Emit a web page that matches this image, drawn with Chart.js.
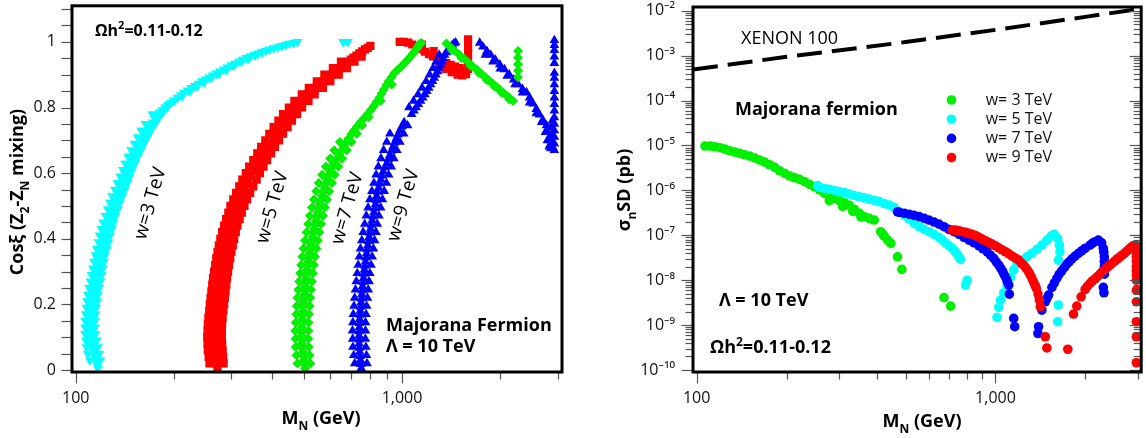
<!DOCTYPE html>
<html><head><meta charset="utf-8">
<script src="https://cdn.jsdelivr.net/npm/chart.js@4.4.0/dist/chart.umd.min.js"></script>
<style>
html,body{margin:0;padding:0;background:#fff;}
#wrap{position:relative;width:1146px;height:438px;overflow:hidden;background:#fff;}
canvas{position:absolute;top:0;}
#c1{left:0;}
#c2{left:580px;}
</style></head><body>
<div id="wrap">
<canvas id="c1" width="580" height="438"></canvas>
<canvas id="c2" width="566" height="438"></canvas>
</div>
<script>
// ---------------- DATA ----------------
// Left panel: cos(xi) vs M_N  (pairs [M_N GeV, cos xi])
const mixW3Core = [[117,0.005],[116,0.025],[114,0.045],[112.5,0.065],[111.5,0.085],[111,0.105],[110.5,0.125],[111,0.145],[111.5,0.165],[112,0.185],[112.5,0.205],[113,0.225],[114,0.245],[115,0.265],[116,0.285],[117,0.305],[118,0.325],[119,0.345],[120,0.365],[121.5,0.385],[123,0.405],[124.5,0.425],[126,0.445],[128,0.465],[130,0.485],[132,0.505],[134,0.525],[136.5,0.545],[139,0.565],[141.5,0.585],[144,0.605],[147,0.625],[150,0.645],[153.5,0.665],[157,0.685],[161,0.705],[165,0.725],[170,0.745],[175,0.765],[181,0.785],[188,0.8],[196,0.815],[205,0.83],[215,0.845],[226,0.86],[238,0.873],[250,0.886],[263,0.898],[277,0.91],[292,0.922],[308,0.934],[325,0.946],[343,0.956],[362,0.965],[382,0.973],[404,0.981],[428,0.988],[452,0.995],[478,1.0],[660,1.0],[682,1.0]];
const mixW3Mid = [[116.5,0.015],[115,0.035],[113,0.055],[112,0.075],[111,0.095],[110.5,0.115],[110.8,0.135],[111.2,0.155],[111.8,0.175],[112.2,0.195],[112.8,0.215],[113.5,0.235],[114.5,0.255],[115.5,0.275],[116.5,0.295],[117.5,0.315],[118.5,0.335],[119.5,0.355],[120.8,0.375],[122.2,0.395],[123.8,0.415],[125.2,0.435],[127,0.455],[129,0.475],[131,0.495],[133,0.515],[135.2,0.535],[137.8,0.555],[140.2,0.575],[142.8,0.595],[145.5,0.615],[148.5,0.635],[151.8,0.655],[155.2,0.675],[159,0.695],[163,0.715],[167.5,0.735],[172.5,0.755],[178,0.775],[184.5,0.792],[192,0.808],[200.5,0.822],[210,0.838],[220.5,0.852],[232,0.866],[244,0.88],[256.5,0.892],[270,0.904],[284.5,0.916],[300,0.928],[316.5,0.94],[334,0.951],[352.5,0.96],[372,0.969],[393,0.977],[416,0.984],[440,0.991],[465,0.997]];
const mixW3Left = [[110.5,0.03],[109,0.05],[108,0.07],[107.5,0.09],[107,0.11],[107,0.13],[107,0.15],[107.5,0.17],[108,0.19],[108.5,0.21],[109,0.23],[110,0.25],[111,0.27],[112,0.29],[113,0.31],[114,0.33],[115,0.35],[116,0.37],[117.5,0.39],[118.5,0.41],[120,0.43],[121.5,0.45],[123.5,0.47],[125.5,0.49],[127.5,0.51],[129.5,0.53],[132,0.55],[134.5,0.57],[137,0.59],[139.5,0.61],[142,0.63],[145,0.65],[148,0.67],[151.5,0.69],[155,0.71],[159,0.73],[164,0.75],[172,0.78]];
const mixW3Right = [[119,0.03],[118,0.05],[117,0.07],[116,0.09],[115,0.11],[114.5,0.13],[114.5,0.15],[115,0.17],[115.5,0.19],[116.5,0.21],[117,0.23],[118,0.25],[119,0.27],[120,0.29],[121,0.31],[122,0.33],[123,0.35],[124.5,0.37],[126,0.39],[127.5,0.41],[129,0.43],[130.5,0.45],[132.5,0.47],[134.5,0.49],[136.5,0.51],[139,0.53],[141.5,0.55],[144,0.57],[146.5,0.59],[149,0.61],[152,0.63],[155,0.65],[158.5,0.67],[162,0.69],[166,0.71],[170,0.73],[175,0.75],[180,0.77],[185,0.785],[191,0.8],[200,0.82],[212,0.835],[224,0.85],[236,0.865],[248,0.878],[260,0.89],[275,0.903],[290,0.915],[305,0.928],[322,0.94],[338,0.95],[356,0.96],[372,0.968]];

const mixW5Core = [[272,0.005],[270,0.03],[268,0.055],[267,0.08],[267,0.105],[267.5,0.13],[268.5,0.155],[270,0.18],[271.5,0.205],[273,0.23],[275,0.255],[277,0.28],[279.5,0.305],[282,0.33],[285,0.355],[288.5,0.38],[292.5,0.405],[297,0.43],[302,0.455],[307.5,0.48],[314,0.505],[321,0.53],[329,0.555],[338,0.58],[348,0.605],[363,0.63],[376,0.655],[390,0.68],[404,0.705],[419,0.73],[436,0.755],[455,0.78],[473,0.8],[493,0.82],[515,0.84],[545,0.86],[575,0.88],[608,0.9],[645,0.92],[685,0.94],[710,0.952],[740,0.965],[770,0.977],[800,0.988]];
const mixW5Mid = [[271,0.0175],[269,0.0425],[267.5,0.0675],[267,0.0925],[267.2,0.1175],[268,0.1425],[269.2,0.1675],[270.8,0.1925],[272.2,0.2175],[274,0.2425],[276,0.2675],[278.2,0.2925],[280.8,0.3175],[283.5,0.3425],[286.8,0.3675],[290.5,0.3925],[294.8,0.4175],[299.5,0.4425],[304.8,0.4675],[310.8,0.4925],[317.5,0.5175],[325,0.5425],[333.5,0.5675],[343,0.5925],[355.5,0.6175],[369.5,0.6425],[383,0.6675],[397,0.6925],[411.5,0.7175],[427.5,0.7425],[445.5,0.7675],[464,0.79],[483,0.81],[504,0.83],[530,0.85],[560,0.87],[591,0.89],[626,0.91],[665,0.93],[697,0.946],[725,0.958],[755,0.971],[785,0.982]];
const mixW5Left = [[257,0.02],[255.5,0.04],[254,0.06],[253.5,0.08],[253,0.10],[253.5,0.12],[254,0.14],[255,0.16],[256.5,0.18],[257.5,0.2],[259,0.22],[260.5,0.24],[262,0.26],[263.5,0.28],[265.5,0.30],[267.5,0.32],[269.5,0.34],[272,0.36],[274.5,0.38],[277.5,0.4],[281,0.42],[285,0.44],[289,0.46],[293.5,0.48],[298,0.50],[304,0.52],[310,0.54],[317,0.56],[324,0.58],[332,0.6],[340,0.62],[350,0.64],[360,0.66],[370,0.68],[381,0.70],[392,0.72],[404,0.74],[418,0.76],[432,0.78],[450,0.8],[468,0.82],[493,0.84],[518,0.86],[548,0.88],[578,0.90],[614,0.92],[650,0.94]];
const mixW5Right = [[284,0.02],[283,0.04],[282,0.06],[281,0.08],[280.5,0.1],[280.5,0.12],[281,0.14],[282,0.16],[283.5,0.18],[285,0.20],[286.5,0.22],[288,0.24],[289.5,0.26],[291,0.28],[293,0.3],[295,0.32],[297.5,0.34],[300,0.36],[303,0.38],[306,0.40],[309.5,0.42],[313,0.44],[318,0.46],[323,0.48],[329,0.5],[335,0.52],[342.5,0.54],[350,0.56],[358.5,0.58],[367,0.60],[376.5,0.62],[386,0.64],[397,0.66],[408,0.68],[420,0.7],[432,0.72],[446,0.74],[460,0.76],[477,0.78],[494,0.80],[517,0.82],[540,0.84],[572,0.86],[603,0.88],[640,0.9],[678,0.92],[715,0.94],[752,0.955]];
const mixW5Top = [[984,1.0],[1012,1.0],[1045,0.998],[1075,0.992],[1107,0.986],[1140,0.978],[1150,0.992],[1175,0.97],[1210,0.963],[1245,0.956],[1250,0.972],[1285,0.948],[1325,0.94],[1367,0.935],[1410,0.93],[1455,0.925],[1500,0.92],[1545,0.918],[1300,0.928],[1340,0.93],[1360,0.918],[1420,0.908],[1440,0.915],[1480,0.9],[1520,0.91],[1530,0.898],[1570,0.902],[1575,0.912],[1594,0.918],[1594,0.94],[1594,0.962],[1594,0.985],[1594,1.008]];

const mixW7Core = [[505,0.005],[500,0.03],[497,0.055],[494,0.08],[493,0.105],[493,0.13],[495,0.155],[497,0.18],[499,0.205],[502,0.23],[505,0.255],[508,0.28],[512,0.305],[516,0.33],[520,0.355],[526,0.38],[532,0.405],[538,0.43],[545,0.455],[552,0.48],[560,0.505],[569,0.53],[579,0.555],[590,0.58],[603,0.605],[618,0.63],[642,0.655],[663,0.68],[685,0.705],[712,0.73],[745,0.755],[785,0.78],[820,0.805],[852,0.83],[880,0.855],[910,0.88],[948,0.905],[995,0.925],[1040,0.945],[1080,0.965],[1112,0.98],[1125,0.99],[1147,0.997]];
const mixW7Mid = [[502.5,0.0175],[498.5,0.0425],[495.5,0.0675],[493.5,0.0925],[493,0.1175],[494,0.1425],[496,0.1675],[498,0.1925],[500.5,0.2175],[503.5,0.2425],[506.5,0.2675],[510,0.2925],[514,0.3175],[518,0.3425],[523,0.3675],[529,0.3925],[535,0.4175],[541.5,0.4425],[548.5,0.4675],[556,0.4925],[564.5,0.5175],[574,0.5425],[584.5,0.5675],[596.5,0.5925],[610.5,0.6175],[630,0.6425],[652.5,0.6675],[674,0.6925],[698.5,0.7175],[728.5,0.7425],[765,0.7675],[802.5,0.7925],[836,0.8175],[866,0.8425],[895,0.8675],[929,0.8925],[971,0.915],[1017,0.935],[1060,0.955],[1096,0.972],[1118,0.985],[1136,0.994]];
const mixW7Left = [[478,0.02],[475,0.045],[472,0.07],[471.5,0.095],[471,0.12],[472.5,0.145],[474,0.17],[476,0.195],[478,0.22],[481,0.245],[484,0.27],[487.5,0.295],[491,0.32],[495,0.345],[499,0.37],[504.5,0.395],[510,0.42],[516,0.445],[522,0.47],[529.5,0.495],[537,0.52],[546,0.545],[556,0.57],[569,0.595],[584,0.62],[602,0.645],[620,0.67],[645,0.695]];
const mixW7Right = [[524,0.02],[521,0.045],[518,0.07],[516,0.095],[516.5,0.12],[517,0.145],[519,0.17],[521,0.195],[523.5,0.22],[526,0.245],[529.5,0.27],[533,0.295],[537,0.32],[541,0.345],[546.5,0.37],[552,0.395],[558.5,0.42],[565,0.445],[572.5,0.47],[580,0.495],[589,0.52],[598,0.545],[610,0.57],[622,0.595],[638,0.62],[655,0.645],[677,0.67],[700,0.695],[727,0.72],[755,0.745],[790,0.77],[860,0.82],[930,0.87]];
const mixW7Tail = [[1368,0.995],[1410,0.984],[1450,0.973],[1500,0.961],[1550,0.949],[1600,0.937],[1650,0.925],[1700,0.914],[1750,0.903],[1800,0.892],[1850,0.882],[1900,0.872],[1950,0.863],[2000,0.853],[2050,0.844],[2120,0.832],[2189,0.82],[1420,0.975],[1520,0.951],[1620,0.927],[1720,0.905],[1820,0.884],[1920,0.864],[2020,0.845],[2130,0.825],[2268,0.972],[2268,0.952],[2268,0.932],[2268,0.912],[2268,0.892]];

const mixW9Core = [[750,0.005],[746,0.03],[742,0.055],[739,0.08],[739,0.105],[740,0.13],[742,0.155],[745,0.18],[749,0.205],[753,0.23],[757,0.255],[762,0.28],[767,0.305],[773,0.33],[779,0.355],[786,0.38],[793,0.405],[801,0.43],[810,0.455],[820,0.48],[830,0.505],[836,0.53],[848,0.555],[862,0.58],[876,0.605],[899,0.63],[918,0.655],[938,0.68],[960,0.705],[985,0.73],[1015,0.755],[1070,0.78],[1105,0.8],[1140,0.82],[1175,0.84],[1208,0.86],[1240,0.88],[1270,0.9],[1298,0.92],[1325,0.94],[1350,0.96],[1385,0.975],[1425,0.99],[1460,0.998]];
const mixW9Mid = [[748,0.0175],[744,0.0425],[740.5,0.0675],[739,0.0925],[739.5,0.1175],[741,0.1425],[743.5,0.1675],[747,0.1925],[751,0.2175],[755,0.2425],[759.5,0.2675],[764.5,0.2925],[770,0.3175],[776,0.3425],[782.5,0.3675],[789.5,0.3925],[797,0.4175],[805.5,0.4425],[815,0.4675],[825,0.4925],[833,0.5175],[842,0.5425],[855,0.5675],[869,0.5925],[887,0.6175],[908,0.6425],[928,0.6675],[949,0.6925],[972,0.7175],[1000,0.7425],[1088,0.79],[1122,0.81],[1157,0.83],[1191,0.85],[1224,0.87],[1255,0.89],[1284,0.91],[1311,0.93],[1337,0.95],[1367,0.968],[1405,0.983],[1442,0.995]];
const mixW9Left = [[716,0.02],[711,0.045],[707,0.07],[706,0.095],[705,0.12],[707,0.145],[709,0.17],[712.5,0.195],[716,0.22],[720,0.245],[724,0.27],[729,0.295],[734,0.32],[740,0.345],[746,0.37],[753,0.395],[760,0.42],[768.5,0.445],[777,0.47],[787,0.495],[797,0.52],[808.5,0.545],[820,0.57],[833,0.595],[846,0.62],[862,0.645],[878,0.67],[898,0.695],[918,0.72],[1050,0.8],[1085,0.82],[1120,0.84],[1152,0.86],[1185,0.88],[1215,0.9],[1245,0.92],[1272,0.94],[1300,0.96]];
const mixW9Right = [[781,0.02],[778,0.045],[775,0.07],[772,0.095],[772.5,0.12],[773,0.145],[776,0.17],[779,0.195],[783.5,0.22],[788,0.245],[792.5,0.27],[797,0.295],[803.5,0.32],[810,0.345],[817,0.37],[824,0.395],[832,0.42],[840,0.445],[850,0.47],[860,0.495],[871,0.52],[882,0.545],[896,0.57],[910,0.595],[927,0.62],[944,0.645],[964,0.67],[985,0.695],[1012,0.72],[1040,0.745]];
const mixW9Tail = [[1730,0.997],[1770,0.985],[1820,0.972],[1870,0.96],[1930,0.946],[1993,0.931],[2060,0.916],[2130,0.9],[2200,0.885],[2270,0.87],[2340,0.856],[2406,0.846],[2460,0.83],[2520,0.812],[2580,0.795],[2640,0.778],[2700,0.762],[2771,0.745],[2800,0.725],[2820,0.705],[2837,0.685],[2860,0.675],[2890,0.68],[1800,0.96],[1900,0.94],[2000,0.918],[2100,0.896],[2220,0.87],[2340,0.845],[2460,0.815],[2580,0.782],[2680,0.755],[2750,0.725],[2790,0.7],[2830,0.68],[2870,0.7],[2880,0.72],[2860,0.74],[2890,0.76],[2930,0.67],[2930,0.69],[2930,0.71],[2930,0.73],[2930,0.75],[2930,0.77],[2930,0.79],[2930,0.81],[2930,0.83],[2930,0.85],[2930,0.87],[2930,0.89],[2930,0.905],[2930,0.935],[2930,0.955],[2930,0.975],[2930,0.99],[2930,1.005]];

// Right panel: sigma_n^SD (pb) vs M_N
const sdW3 = [[106.6,9.7e-6],[110.7,9.7e-6],[115.1,9.35e-6],[119.6,8.9e-6],[124.3,8.3e-6],[129.1,7.6e-6],[134.2,7.1e-6],[139.4,6.66e-6],[144.9,6.2e-6],[150.5,5.8e-6],[156.4,5.24e-6],[162.6,4.73e-6],[168.9,4.27e-6],[175.5,3.72e-6],[182.4,3.25e-6],[189.5,2.73e-6],[197,2.4e-6],[204.6,2.09e-6],[212.6,1.91e-6],[221,1.76e-6],[229.6,1.56e-6],[238.6,1.36e-6],[248,1.2e-6],[257.6,1.02e-6],[267.7,8.6e-7],[278.2,7.5e-7],[289,6.6e-7],[300.3,5.9e-7],[312.1,5.3e-7],[324.3,4.63e-7],[337,3.78e-7],[350.2,3.08e-7],[363.9,2.59e-7],[378.2,2.38e-7],[392.9,2.18e-7],[412.9,1.2e-7],[420,1.05e-7],[424.4,9.6e-8],[435.5,7.8e-8],[446.7,6.6e-8],[470,3.3e-8],[486,1.74e-8],[672.5,4.1e-9],[708,2.65e-9],[278,5.9e-7],[308,4.4e-7],[333,3.4e-7],[355,2.55e-7]];
const sdW5 = [[254,1.28e-6],[257.6,1.17e-6],[267.7,1.1e-6],[278.2,1.05e-6],[289,1.0e-6],[300.3,9.3e-7],[312,8.9e-7],[324.3,8.3e-7],[337,7.7e-7],[350.2,7.2e-7],[364,6.8e-7],[378.2,6.4e-7],[393,6.0e-7],[408.3,5.6e-7],[424,5.1e-7],[441,4.7e-7],[458,4.17e-7],[476,3.3e-7],[495,2.8e-7],[514,2.3e-7],[534,1.85e-7],[555,1.55e-7],[577,1.35e-7],[599,1.2e-7],[623,1.05e-7],[647,9.0e-8],[664,7.8e-8],[681,6.8e-8],[698,5.9e-8],[716.8,5.1e-8],[731,4.4e-8],[745,3.8e-8],[755,3.3e-8],[764,2.9e-8],[794,7.8e-9],[804,1.0e-8],[1012,1.48e-9],[1026,2.48e-9],[1039,3.6e-9],[1066,5.25e-9],[1093,7.8e-9],[1122,1.15e-8],[1151,1.68e-8],[1180,2.28e-8],[1227,2.8e-8],[1274,3.3e-8],[1324,3.95e-8],[1376,4.85e-8],[1430,6.05e-8],[1486,7.8e-8],[1536,9.6e-8],[1574,1.05e-7],[1614,8.5e-8],[1636,6.05e-8],[1644,4.3e-8],[1623,2.8e-8],[1623,2.8e-9],[1614,1.19e-9]];
const sdW7 = [[470,3.33e-7],[476,3.25e-7],[495,3.1e-7],[514,2.95e-7],[534,2.77e-7],[555,2.6e-7],[577,2.38e-7],[599,2.18e-7],[623,1.97e-7],[647,1.77e-7],[672,1.55e-7],[698,1.35e-7],[726,1.2e-7],[755,1.05e-7],[784,9.0e-8],[815,7.8e-8],[847,6.8e-8],[880,5.8e-8],[908,5.0e-8],[938,4.3e-8],[962,3.6e-8],[987,3.05e-8],[1006,2.57e-8],[1026,2.17e-8],[1042,1.83e-8],[1058,1.54e-8],[1071,1.3e-8],[1085,1.1e-8],[1096,9.2e-9],[1108,7.8e-9],[1113,4.9e-9],[1151,1.41e-9],[1160,9.2e-10],[1387,6.5e-10],[1394,9.2e-10],[1430,2.16e-9],[1468,3.3e-9],[1486,3.9e-9],[1506,4.66e-9],[1545,6.9e-9],[1574,8.7e-9],[1605,1.1e-8],[1633,1.35e-8],[1667,1.62e-8],[1702,1.92e-8],[1733,2.28e-8],[1764,2.57e-8],[1800,2.95e-8],[1847,3.44e-8],[1895,3.95e-8],[1944,4.5e-8],[1995,5.1e-8],[2073,6.05e-8],[2110,6.6e-8],[2154,7.2e-8],[2210,7.8e-8],[2267,6.8e-8],[2296,5.1e-8],[2305,4.2e-8],[2314,3.3e-8],[2314,2.6e-8],[2314,2.0e-8],[2314,1.7e-8],[2314,1.36e-8],[2296,6.9e-9],[2307,5.25e-9]];
const sdW9 = [[717,1.3e-7],[736,1.3e-7],[755,1.26e-7],[774,1.2e-7],[794,1.16e-7],[815,1.1e-7],[836,1.05e-7],[858,9.8e-8],[880,9.0e-8],[903,8.2e-8],[926,7.5e-8],[950,6.9e-8],[974,6.35e-8],[1000,5.8e-8],[1026,5.25e-8],[1053,4.75e-8],[1080,4.3e-8],[1108,3.87e-8],[1137,3.44e-8],[1166,3.1e-8],[1196,2.8e-8],[1219,2.44e-8],[1243,2.17e-8],[1263,1.89e-8],[1285,1.62e-8],[1301,1.39e-8],[1318,1.19e-8],[1331,1.02e-8],[1345,8.75e-9],[1359,7.6e-9],[1370,6.6e-9],[1388,4.9e-9],[1402,3.6e-9],[1413,2.56e-9],[1468,5.5e-10],[1486,3.1e-10],[1746,2.9e-10],[1824,1.76e-9],[1871,2.65e-9],[1935,4.27e-9],[1995,6.2e-9],[2030,7.3e-9],[2073,8.5e-9],[2110,9.6e-9],[2154,1.07e-8],[2195,1.2e-8],[2239,1.37e-8],[2280,1.55e-8],[2326,1.74e-8],[2370,1.95e-8],[2416,2.17e-8],[2465,2.42e-8],[2512,2.7e-8],[2560,3.0e-8],[2610,3.3e-8],[2660,3.65e-8],[2712,4.07e-8],[2765,4.55e-8],[2818,5.1e-8],[2855,5.5e-8],[2891,5.8e-8],[2943,6.05e-8],[2962,5.5e-8],[2962,4.7e-8],[2962,4.0e-8],[2962,3.3e-8],[2962,2.6e-8],[2962,2.0e-8],[2962,1.6e-8],[2962,1.3e-8],[2962,1.0e-8],[2962,6.0e-9],[2962,3.3e-9],[2962,1.19e-9],[2962,5.5e-10],[2962,1.45e-10]];
const xenonLimit = [[97.2,4.9e-4],[200,9.4e-4],[500,2.0e-3],[1000,3.75e-3],[2000,7.3e-3],[3076,1.11e-2]];

// tick labels
const massTicks = [100, 1000];
const cosTicks = [0, 0.2, 0.4, 0.6, 0.8, 1];
const sigmaExps = [-10, -9, -8, -7, -6, -5, -4, -3, -2];

// ---------------- HELPERS ----------------
const FONT = "'Open Sans', 'Noto Sans', 'DejaVu Sans', sans-serif";
const CYAN = '#00ffff', RED = '#ff0000', GREEN = '#00f000', BLUE = '#0000ff';
const pts = arr => arr.map(([x, y]) => ({x, y}));
const SUP = {'0':'⁰','1':'¹','2':'²','3':'³','4':'⁴','5':'⁵','6':'⁶','7':'⁷','8':'⁸','9':'⁹','-':'⁻'};
const sup = s => String(s).split('').map(c => SUP[c] || c).join('');
const noPad = s => { s.paddingLeft = 0; s.paddingRight = 0; s.paddingTop = 0; s.paddingBottom = 0; };

function drawRich(ctx, it) {
  const size = it.size;
  const style = it.italic ? 'italic ' : '';
  const weight = it.bold ? 'bold ' : '';
  const fontFor = p => style + weight + ((p.sub || p.sup) ? Math.round(size * 0.68) : size) + 'px ' + FONT;
  let w = 0;
  const widths = it.parts.map(p => { ctx.font = fontFor(p); const m = ctx.measureText(p.t).width; w += m; return m; });
  ctx.save();
  ctx.translate(it.x, it.y);
  if (it.rot) ctx.rotate(it.rot * Math.PI / 180);
  let x = it.align === 'center' ? -w / 2 : 0;
  const base = size * 0.36;
  ctx.fillStyle = it.color || '#000';
  ctx.textBaseline = 'alphabetic';
  ctx.textAlign = 'left';
  it.parts.forEach((p, i) => {
    ctx.font = fontFor(p);
    const dy = p.sub ? size * 0.28 : (p.sup ? -size * 0.4 : 0);
    ctx.fillText(p.t, x, base + dy);
    x += widths[i];
  });
  ctx.restore();
}

const framePlugin = {
  id: 'frame',
  afterDraw(chart, args, opts) {
    const {ctx, chartArea: a, scales} = chart;
    ctx.save();
    ctx.strokeStyle = '#555';
    ctx.lineWidth = 1.2;
    (opts.xTicks || []).forEach(t => {
      const x = Math.round(scales.x.getPixelForValue(t.v)) + 0.5;
      ctx.beginPath(); ctx.moveTo(x, a.bottom); ctx.lineTo(x, a.bottom + 1.5 + t.len); ctx.stroke();
    });
    (opts.yTicks || []).forEach(t => {
      const y = Math.round(scales.y.getPixelForValue(t.v)) + 0.5;
      ctx.beginPath(); ctx.moveTo(a.left, y); ctx.lineTo(a.left - 1.5 - t.len, y); ctx.stroke();
      if (opts.mirrorY) { ctx.beginPath(); ctx.moveTo(a.right, y); ctx.lineTo(a.right - 1.5 - t.len, y); ctx.stroke(); }
    });
    ctx.strokeStyle = '#000';
    ctx.lineWidth = 3;
    ctx.strokeRect(a.left, a.top, a.right - a.left, a.bottom - a.top);
    ctx.restore();
  }
};

const notesPlugin = {
  id: 'notes',
  afterDraw(chart, args, opts) {
    const ctx = chart.ctx;
    (opts.items || []).forEach(it => drawRich(ctx, it));
    if (opts.legend) {
      const L = opts.legend;
      let i = 0;
      chart.data.datasets.forEach(ds => {
        if (ds.inLegend === false) return;
        const y = L.y + i * L.dy;
        ctx.save();
        ctx.fillStyle = ds.backgroundColor;
        ctx.beginPath(); ctx.arc(L.x, y, L.r, 0, Math.PI * 2); ctx.fill();
        ctx.fillStyle = '#111';
        ctx.font = L.size + 'px ' + FONT;
        ctx.textBaseline = 'middle';
        ctx.textAlign = 'left';
        ctx.fillText(ds.label, L.tx, y);
        ctx.restore();
        i++;
      });
    }
  }
};

function logTickMarks(minorTop) {
  const out = [];
  [100, 1000].forEach(d => {
    out.push({v: d, len: 10});
    for (let k = 2; k <= 9; k++) { const v = k * d; if (v <= minorTop) out.push({v, len: 6}); }
  });
  return out;
}

// ---------------- LEFT CHART ----------------
const leftYTicks = [];
for (let i = 0; i <= 22; i++) leftYTicks.push({v: i * 0.05, len: 9});

new Chart(document.getElementById('c1'), {
  type: 'scatter',
  data: {
    datasets: [
      {label: 'w=3 TeV', data: pts([...mixW3Core, ...mixW3Mid, ...mixW3Left, ...mixW3Right]), pointStyle: 'triangle', rotation: 180, pointRadius: 5.8, backgroundColor: CYAN, borderColor: CYAN, borderWidth: 0, order: 4},
      {label: 'w=5 TeV', data: pts([...mixW5Core, ...mixW5Mid, ...mixW5Left, ...mixW5Right, ...mixW5Top]), pointStyle: 'rect', pointRadius: 5.8, backgroundColor: RED, borderColor: RED, borderWidth: 0, order: 3},
      {label: 'w=7 TeV', data: pts([...mixW7Core, ...mixW7Mid, ...mixW7Left, ...mixW7Right, ...mixW7Tail]), pointStyle: 'rectRot', pointRadius: 5, backgroundColor: GREEN, borderColor: GREEN, borderWidth: 0, order: 1},
      {label: 'w=9 TeV', data: pts([...mixW9Core, ...mixW9Mid, ...mixW9Left, ...mixW9Right, ...mixW9Tail]), pointStyle: 'triangle', pointRadius: 5.6, backgroundColor: BLUE, borderColor: BLUE, borderWidth: 0, order: 2}
    ]
  },
  options: {
    responsive: false, animation: false, events: [],
    layout: {padding: {left: 0, right: 18, top: 2, bottom: 0}},
    plugins: {
      legend: {display: false}, tooltip: {enabled: false},
      frame: {xTicks: logTickMarks(3000), yTicks: leftYTicks},
      notes: {items: [
        {parts: [{t: 'Cosξ (Z'}, {t: '2', sub: true}, {t: '-Z'}, {t: 'N', sub: true}, {t: ' mixing)'}], x: 17, y: 192, rot: -90, size: 18, bold: true, align: 'center'},
        {parts: [{t: 'M'}, {t: 'N', sub: true}, {t: ' (GeV)'}], x: 321, y: 418, size: 18, bold: true, align: 'center'},
        {parts: [{t: 'Ωh'}, {t: '2', sup: true}, {t: '=0.11-0.12'}], x: 95, y: 30, size: 16, bold: true},
        {parts: [{t: 'w=3 TeV'}], x: 149, y: 203, rot: -74, size: 19, align: 'center'},
        {parts: [{t: 'w=5 TeV'}], x: 271, y: 207, rot: -74, size: 19, align: 'center'},
        {parts: [{t: 'w=7 TeV'}], x: 346, y: 208, rot: -74, size: 19, align: 'center'},
        {parts: [{t: 'w=9 TeV'}], x: 402, y: 205, rot: -74, size: 19, align: 'center'},
        {parts: [{t: 'Majorana Fermion'}], x: 386, y: 325, size: 18, bold: true},
        {parts: [{t: 'Λ = 10 TeV'}], x: 386, y: 346, size: 18, bold: true}
      ]}
    },
    scales: {
      x: {
        type: 'logarithmic', position: 'bottom', min: 97.42, max: 3092,
        grid: {display: false, drawTicks: false}, border: {display: false},
        afterBuildTicks: s => { s.ticks = massTicks.map(v => ({value: v})); },
        afterFit: s => { s.height = 66; noPad(s); },
        ticks: {autoSkip: false, maxRotation: 0, padding: 17, color: '#111', font: {family: FONT, size: 16},
          callback: v => v === 1000 ? '1,000' : String(v)}
      },
      y: {
        type: 'linear', position: 'left', min: -0.006, max: 1.11,
        grid: {display: false, drawTicks: false}, border: {display: false},
        afterBuildTicks: s => { s.ticks = cosTicks.map(v => ({value: v})); },
        afterFit: s => { s.width = 72; noPad(s); },
        ticks: {autoSkip: false, padding: 16, color: '#111', font: {family: FONT, size: 16},
          callback: v => (v === 0 || v === 1) ? String(v) : v.toFixed(1)}
      }
    }
  },
  plugins: [framePlugin, notesPlugin]
});

// ---------------- RIGHT CHART ----------------
const rightYTicks = [];
sigmaExps.forEach(e => {
  rightYTicks.push({v: Math.pow(10, e), len: 10});
  if (e < -2) for (let k = 2; k <= 9; k++) rightYTicks.push({v: k * Math.pow(10, e), len: 6});
});

new Chart(document.getElementById('c2'), {
  type: 'scatter',
  data: {
    datasets: [
      {label: 'w= 3 TeV', data: pts(sdW3), pointStyle: 'circle', pointRadius: 4.8, backgroundColor: GREEN, borderColor: GREEN, borderWidth: 0, order: 4},
      {label: 'w= 5 TeV', data: pts(sdW5), pointStyle: 'circle', pointRadius: 4.8, backgroundColor: CYAN, borderColor: CYAN, borderWidth: 0, order: 3},
      {label: 'w= 7 TeV', data: pts(sdW7), pointStyle: 'circle', pointRadius: 4.8, backgroundColor: BLUE, borderColor: BLUE, borderWidth: 0, order: 2},
      {label: 'w= 9 TeV', data: pts(sdW9), pointStyle: 'circle', pointRadius: 4.8, backgroundColor: RED, borderColor: RED, borderWidth: 0, order: 1},
      {label: 'XENON 100', inLegend: false, data: pts(xenonLimit), showLine: true, pointRadius: 0, borderColor: '#000', backgroundColor: '#000', borderWidth: 4, borderDash: [25, 10], order: 0}
    ]
  },
  options: {
    responsive: false, animation: false, events: [],
    layout: {padding: {left: 0, right: 3, top: 7, bottom: 0}},
    plugins: {
      legend: {display: false}, tooltip: {enabled: false},
      frame: {xTicks: logTickMarks(3000), yTicks: rightYTicks, mirrorY: true},
      notes: {
        items: [
          {parts: [{t: 'σ'}, {t: 'n', sub: true}, {t: 'SD (pb)'}], x: 44, y: 190, rot: -90, size: 18, bold: true, align: 'center'},
          {parts: [{t: 'M'}, {t: 'N', sub: true}, {t: ' (GeV)'}], x: 342, y: 421, size: 18, bold: true, align: 'center'},
          {parts: [{t: 'XENON 100'}], x: 161, y: 38, size: 18},
          {parts: [{t: 'Majorana fermion'}], x: 155, y: 109, size: 18, bold: true},
          {parts: [{t: 'Λ = 10 TeV'}], x: 139, y: 300, size: 18, bold: true},
          {parts: [{t: 'Ωh'}, {t: '2', sup: true}, {t: '=0.11-0.12'}], x: 130, y: 347, size: 18, bold: true}
        ],
        legend: {x: 371.5, y: 100, dy: 19.2, r: 4.8, tx: 405.7, size: 16}
      }
    },
    scales: {
      x: {
        type: 'logarithmic', position: 'bottom', min: 97.2, max: 3074,
        grid: {display: false, drawTicks: false}, border: {display: false},
        afterBuildTicks: s => { s.ticks = massTicks.map(v => ({value: v})); },
        afterFit: s => { s.height = 66; noPad(s); },
        ticks: {autoSkip: false, maxRotation: 0, padding: 17, color: '#111', font: {family: FONT, size: 16},
          callback: v => v === 1000 ? '1,000' : String(v)}
      },
      y: {
        type: 'logarithmic', position: 'left', min: 9.03e-11, max: 1.21e-2,
        grid: {display: false, drawTicks: false}, border: {display: false},
        afterBuildTicks: s => { s.ticks = sigmaExps.map(e => ({value: Math.pow(10, e)})); },
        afterFit: s => { s.width = 113; noPad(s); },
        ticks: {autoSkip: false, padding: 18, color: '#111', font: {family: FONT, size: 16},
          callback: v => '10' + sup(Math.round(Math.log10(v)))}
      }
    }
  },
  plugins: [framePlugin, notesPlugin]
});
</script>
</body></html>
